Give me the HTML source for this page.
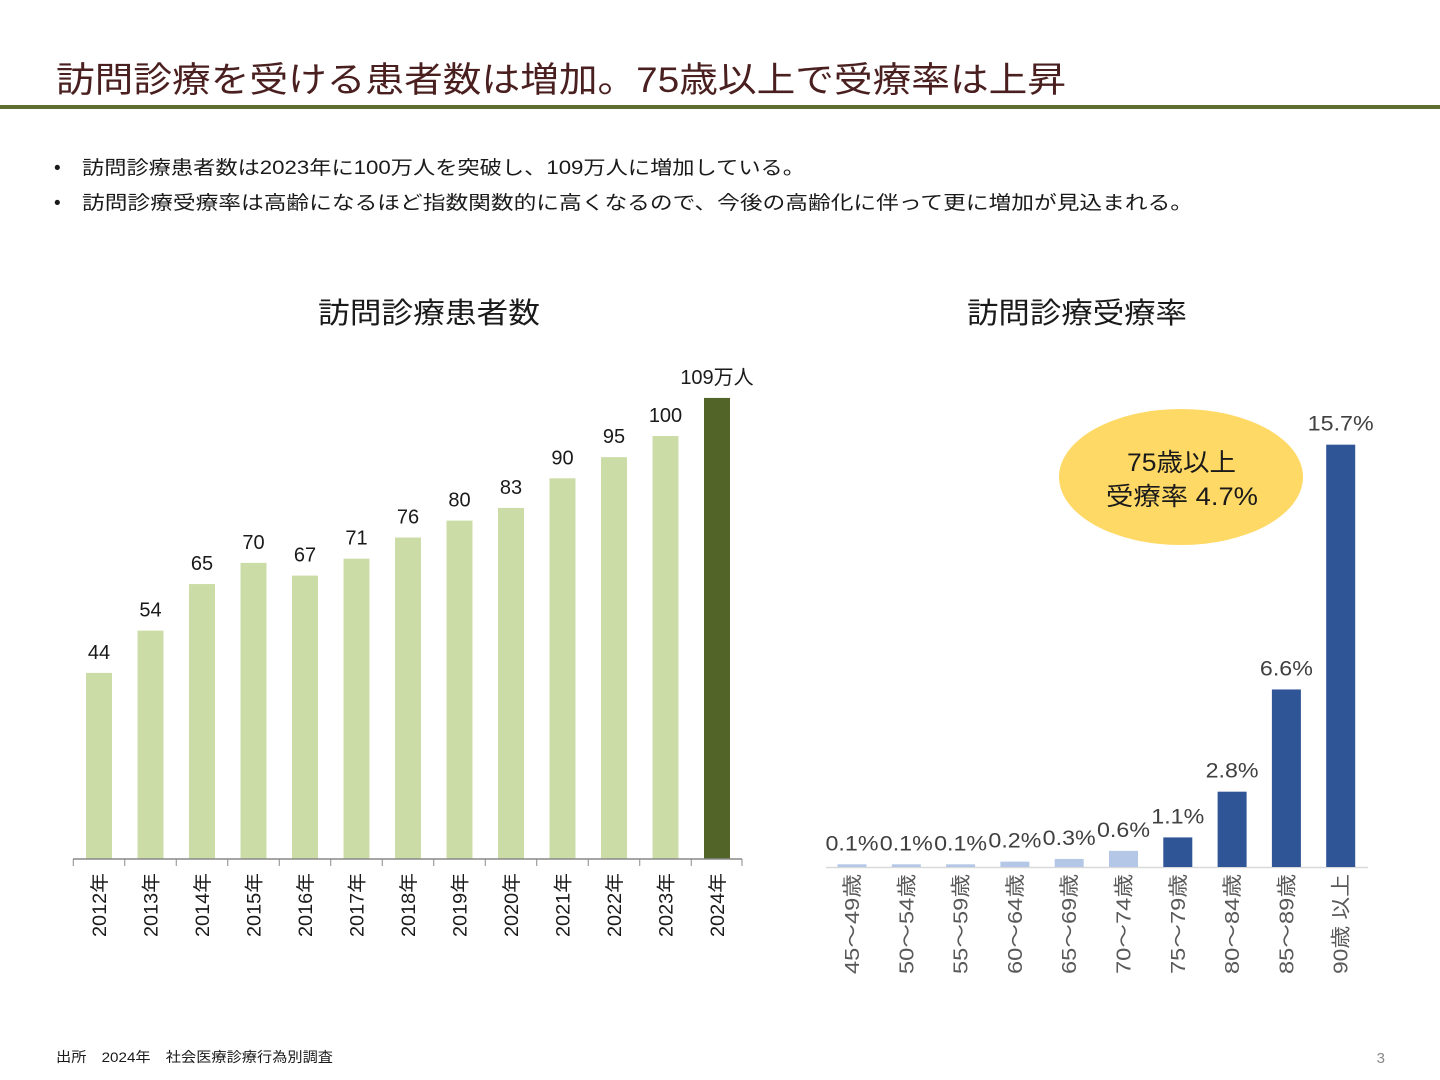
<!DOCTYPE html>
<html><head><meta charset="utf-8">
<style>
html,body{margin:0;padding:0;background:#fff;}
svg{display:block;font-family:"Liberation Sans","Noto Sans CJK JP",sans-serif;}
</style></head>
<body>
<svg id="s" width="1440" height="1080" xmlns="http://www.w3.org/2000/svg">
<text x="56" y="92" font-size="35" fill="#4a1f1f" textLength="1010" lengthAdjust="spacingAndGlyphs">訪問診療を受ける患者数は増加。75歳以上で受療率は上昇</text>
<rect x="0" y="105" width="1440" height="4" fill="#5d6e2e"/>
<g font-size="19" fill="#1a1a1a">
<text x="54" y="174">•</text>
<text x="82" y="174" textLength="723" lengthAdjust="spacingAndGlyphs">訪問診療患者数は2023年に100万人を突破し、109万人に増加している。</text>
<text x="54" y="209">•</text>
<text x="82" y="209" textLength="1111" lengthAdjust="spacingAndGlyphs">訪問診療受療率は高齢になるほど指数関数的に高くなるので、今後の高齢化に伴って更に増加が見込まれる。</text>
</g>
<text x="318" y="323" font-size="29" fill="#1a1a1a" textLength="222" lengthAdjust="spacingAndGlyphs">訪問診療患者数</text>
<text x="967" y="323" font-size="29" fill="#1a1a1a" textLength="220" lengthAdjust="spacingAndGlyphs">訪問診療受療率</text>
<g id="left"></g>
<g id="right"></g>
<text x="56" y="1062" font-size="14" fill="#1a1a1a" textLength="277" lengthAdjust="spacingAndGlyphs">出所　2024年　社会医療診療行為別調査</text>
<text x="1385" y="1063" font-size="15" fill="#888" text-anchor="end">3</text>
</svg>
<script>
const years=["2012年","2013年","2014年","2015年","2016年","2017年","2018年","2019年","2020年","2021年","2022年","2023年","2024年"];
const patients=[44,54,65,70,67,71,76,80,83,90,95,100,109];
const patientLabels=["44","54","65","70","67","71","76","80","83","90","95","100","109万人"];
const ages=["45～49歳","50～54歳","55～59歳","60～64歳","65～69歳","70～74歳","75～79歳","80～84歳","85～89歳","90歳 以上"];
const rates=[0.1,0.1,0.1,0.2,0.3,0.6,1.1,2.8,6.6,15.7];
const NS="http://www.w3.org/2000/svg";
function mk(p,t,a){const e=document.createElementNS(NS,t);for(const k in a)e.setAttribute(k,a[k]);p.appendChild(e);return e;}
// left chart
const L=document.getElementById('left');
const lx=i=>99+i*51.5, ly=v=>859-v*4.23;
years.forEach((y,i)=>{
  const last=i===years.length-1;
  const b=mk(L,'rect',{x:lx(i)-13,y:ly(patients[i]),width:26,height:859-ly(patients[i]),fill:last?'#536429':'#ccdca7'});
  
  
  const t=mk(L,'text',{x:lx(i),y:ly(patients[i])-14,'font-size':20,'text-anchor':'middle',fill:'#1a1a1a'});
  t.textContent=patientLabels[i];
  
  
  const tk=mk(L,'line',{x1:lx(i)-25.75,x2:lx(i)-25.75,y1:859,y2:866,stroke:'#888'});
  
  
  const xl=mk(L,'text',{transform:`translate(${lx(i)+7},${873}) rotate(-90)`,'font-size':19,'text-anchor':'end',fill:'#1a1a1a',textLength:64,lengthAdjust:'spacingAndGlyphs'});
  xl.textContent=y;
  
  
});
const la=mk(L,'line',{x1:73,x2:742,y1:859,y2:859,stroke:'#888','stroke-width':1.5});


const lt=mk(L,'line',{x1:742,x2:742,y1:859,y2:866,stroke:'#888'});


// right chart
const R=document.getElementById('right');
const rx=i=>852+i*54.3, ry=v=>867-v*26.9;
const ra=mk(R,'line',{x1:826,x2:1368,y1:867.5,y2:867.5,stroke:'#d9d9d9','stroke-width':1.5});


ages.forEach((a,i)=>{
  const b=mk(R,'rect',{x:rx(i)-14.5,y:ry(rates[i]),width:29,height:867-ry(rates[i]),fill:i<6?'#b4c7e7':'#2f5597'});
  
  
  const lbl=rates[i].toFixed(1)+'%';
  const t=mk(R,'text',{x:rx(i),y:ry(rates[i])-14,'font-size':21,'text-anchor':'middle',fill:'#404040',textLength:lbl.length>4?66:53,lengthAdjust:'spacingAndGlyphs'});
  t.textContent=lbl;
  
  
  const xl=mk(R,'text',{transform:`translate(${rx(i)+7},${874}) rotate(-90)`,'font-size':20,'text-anchor':'end',fill:'#595959',textLength:100,lengthAdjust:'spacingAndGlyphs'});
  xl.textContent=a;
  
  
});
const el=mk(R,'ellipse',{cx:1181,cy:477,rx:122,ry:68,fill:'#ffd966'});


const c1=mk(R,'text',{x:1127,y:471,'font-size':25,fill:'#1a1a1a',textLength:109,lengthAdjust:'spacingAndGlyphs'});
c1.textContent='75歳以上';


const c2=mk(R,'text',{x:1106,y:505,'font-size':25,fill:'#1a1a1a',textLength:152,lengthAdjust:'spacingAndGlyphs'});
c2.textContent='受療率 4.7%';


</script>
</body></html>
